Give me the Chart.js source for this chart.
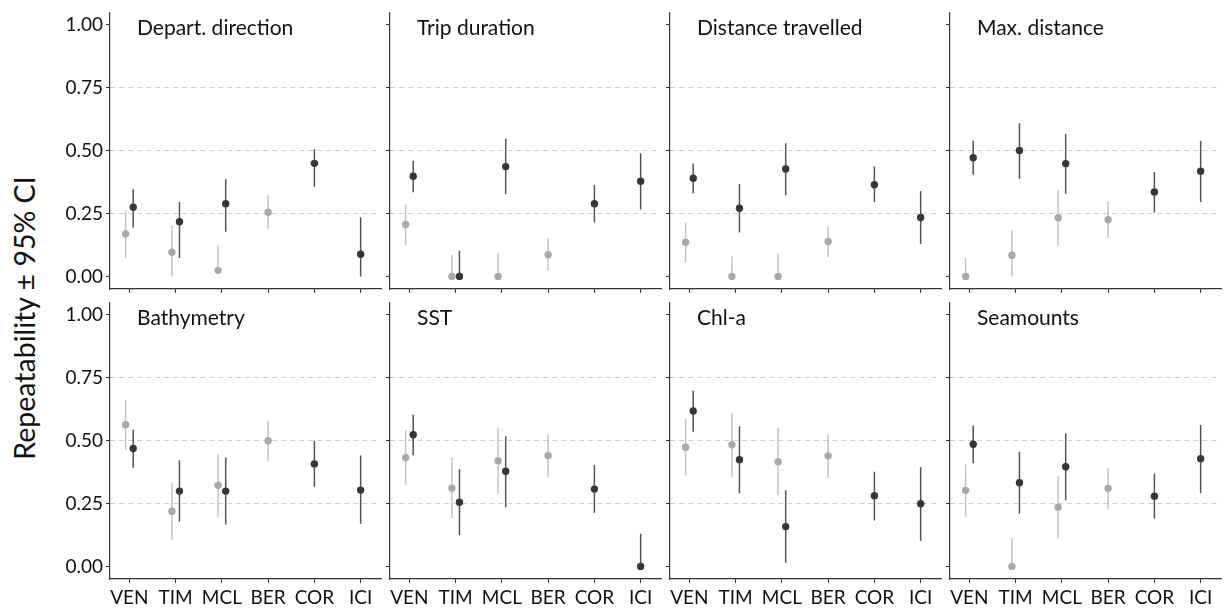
<!DOCTYPE html>
<html>
<head>
<meta charset="utf-8">
<script src="https://cdn.jsdelivr.net/npm/chart.js@4.4.1/dist/chart.umd.min.js"></script>
<style>
  html, body { margin: 0; padding: 0; background: #fff; }
  #wrap { position: relative; width: 1230px; height: 608px; overflow: hidden; font-family: Lato, 'Open Sans', sans-serif; }
  #wrap canvas { position: absolute; }
  #ytitle { position: absolute; left: 24px; top: 318px; transform: translate(-50%, -50%) rotate(-90deg);
            font-size: 28.5px; white-space: nowrap; color: #111; }
</style>
</head>
<body>
<div id="wrap">
  <div id="ytitle">Repeatability ± 95% CI</div>
</div>
<script>
const panelNames = ['Depart. direction', 'Trip duration', 'Distance travelled', 'Max. distance',
                    'Bathymetry', 'SST', 'Chl-a', 'Seamounts'];
const sites = ['VEN', 'TIM', 'MCL', 'BER', 'COR', 'ICI'];
const yTicks = [0, 0.25, 0.5, 0.75, 1];

// light grey group: estimate, lower and upper CI per site (null = not sampled)
const paleR = [
  [0.169, 0.096, 0.024, 0.255, null, null],
  [0.206, 0.000, 0.000, 0.086, null, null],
  [0.136, 0.000, 0.000, 0.138, null, null],
  [0.000, 0.084, 0.233, 0.225, null, null],
  [0.563, 0.219, 0.322, 0.499, null, null],
  [0.432, 0.311, 0.420, 0.440, null, null],
  [0.473, 0.483, 0.416, 0.439, null, null],
  [0.302, 0.000, 0.235, 0.310, null, null]
];
const paleLo = [
  [0.073, 0.000, 0.013, 0.189, null, null],
  [0.124, 0.000, 0.000, 0.023, null, null],
  [0.056, 0.000, 0.000, 0.076, null, null],
  [0.000, 0.000, 0.122, 0.153, null, null],
  [0.463, 0.106, 0.197, 0.419, null, null],
  [0.324, 0.191, 0.289, 0.355, null, null],
  [0.360, 0.355, 0.283, 0.351, null, null],
  [0.197, 0.000, 0.112, 0.227, null, null]
];
const paleHi = [
  [0.262, 0.202, 0.124, 0.322, null, null],
  [0.289, 0.086, 0.093, 0.153, null, null],
  [0.213, 0.080, 0.090, 0.198, null, null],
  [0.073, 0.184, 0.343, 0.297, null, null],
  [0.662, 0.332, 0.445, 0.578, null, null],
  [0.541, 0.432, 0.552, 0.524, null, null],
  [0.586, 0.609, 0.551, 0.525, null, null],
  [0.406, 0.113, 0.359, 0.390, null, null]
];

// dark grey group
const darkR = [
  [0.275, 0.217, 0.289, null, 0.449, 0.088],
  [0.398, 0.000, 0.436, null, 0.289, 0.378],
  [0.390, 0.271, 0.427, null, 0.364, 0.234],
  [0.471, 0.500, 0.448, null, 0.335, 0.418],
  [0.468, 0.299, 0.299, null, 0.407, 0.303],
  [0.523, 0.255, 0.378, null, 0.307, 0.000],
  [0.617, 0.424, 0.158, null, 0.281, 0.249],
  [0.485, 0.332, 0.396, null, 0.279, 0.428]
];
const darkLo = [
  [0.193, 0.073, 0.177, null, 0.356, 0.000],
  [0.334, 0.000, 0.326, null, 0.215, 0.266],
  [0.330, 0.174, 0.322, null, 0.295, 0.129],
  [0.404, 0.388, 0.328, null, 0.254, 0.295],
  [0.392, 0.177, 0.166, null, 0.316, 0.169],
  [0.441, 0.124, 0.235, null, 0.213, 0.000],
  [0.535, 0.291, 0.015, null, 0.182, 0.101],
  [0.410, 0.209, 0.263, null, 0.190, 0.291]
];
const darkHi = [
  [0.346, 0.295, 0.386, null, 0.505, 0.235],
  [0.459, 0.102, 0.548, null, 0.363, 0.489],
  [0.448, 0.367, 0.529, null, 0.436, 0.339],
  [0.539, 0.609, 0.566, null, 0.415, 0.539],
  [0.543, 0.422, 0.432, null, 0.499, 0.440],
  [0.602, 0.386, 0.517, null, 0.403, 0.130],
  [0.698, 0.557, 0.302, null, 0.376, 0.395],
  [0.560, 0.455, 0.529, null, 0.368, 0.562]
];

const FONT = "Lato, 'Open Sans', sans-serif";
const DODGE = 0.082;

// panel label in the top-left corner of each facet
const facetLabel = {
  id: 'facetLabel',
  afterDraw(chart, args, opts) {
    const { ctx, chartArea } = chart;
    ctx.save();
    ctx.font = '21px ' + FONT;
    ctx.fillStyle = '#111';
    ctx.textBaseline = 'middle';
    ctx.fillText(opts.text, chartArea.left + 27, chartArea.top + 16);
    ctx.restore();
  }
};

function xPos(p, k, side) {
  const both = paleR[p][k] !== null && darkR[p][k] !== null;
  return k + 1 + (both ? side * DODGE : 0);
}

function pointsOf(p, est, side) {
  const out = [];
  sites.forEach((s, k) => {
    if (est[p][k] !== null) out.push({ x: xPos(p, k, side), y: est[p][k] });
  });
  return out;
}

function barsOf(p, lo, hi, side) {
  const out = [];
  sites.forEach((s, k) => {
    if (lo[p][k] === null) return;
    const x = xPos(p, k, side);
    out.push({ x: x, y: lo[p][k] }, { x: x, y: hi[p][k] }, { x: x, y: null });
  });
  return out;
}

const wrap = document.getElementById('wrap');

panelNames.forEach((name, p) => {
  const col = p % 4, row = Math.floor(p / 4);
  const plotLeft = 110 + 280 * col;
  const plotTop = row ? 302 : 12;
  const plotW = 271, plotH = 275;
  const yAxisW = 60, xAxisH = row ? 34 : 8, padR = 4;

  const canvas = document.createElement('canvas');
  canvas.width = yAxisW + plotW + padR;
  canvas.height = plotH + xAxisH + 2;
  canvas.style.left = (plotLeft - yAxisW) + 'px';
  canvas.style.top = plotTop + 'px';
  wrap.appendChild(canvas);

  new Chart(canvas.getContext('2d'), {
    type: 'scatter',
    data: {
      datasets: [
        { type: 'line', data: barsOf(p, darkLo, darkHi, 1), borderColor: '#555555', borderWidth: 1.5,
          pointRadius: 0, spanGaps: false, clip: false, order: 2 },
        { type: 'line', data: barsOf(p, paleLo, paleHi, -1), borderColor: '#c4c4c4', borderWidth: 1.5,
          pointRadius: 0, spanGaps: false, clip: false, order: 3 },
        { data: pointsOf(p, darkR, 1), backgroundColor: '#363636', pointRadius: 3.7, borderWidth: 0,
          clip: false, order: 0 },
        { data: pointsOf(p, paleR, -1), backgroundColor: '#a9a9a9', pointRadius: 3.7, borderWidth: 0,
          clip: false, order: 1 }
      ]
    },
    options: {
      responsive: false,
      animation: false,
      events: [],
      layout: { padding: 0, autoPadding: false },
      plugins: {
        legend: { display: false },
        tooltip: { enabled: false },
        facetLabel: { text: name }
      },
      scales: {
        x: {
          type: 'linear', min: 0.58, max: 6.44,
          afterBuildTicks: s => { s.ticks = sites.map((_, k) => ({ value: k + 1 })); },
          afterFit: s => { s.height = xAxisH; s.paddingLeft = 0; s.paddingRight = padR; },
          grid: { drawOnChartArea: false, drawTicks: true, tickLength: 4, tickColor: '#333', tickWidth: 1 },
          border: { color: '#333', width: 1.2 },
          ticks: { display: row === 1, autoSkip: false, maxRotation: 0, padding: 3, color: '#111',
                   font: { family: FONT, size: 19 }, callback: v => sites[v - 1] }
        },
        y: {
          type: 'linear', min: -0.05, max: 1.05,
          afterBuildTicks: s => { s.ticks = yTicks.map(v => ({ value: v })); },
          afterFit: s => { s.width = yAxisW; s.paddingTop = 0; s.paddingBottom = 0; },
          grid: {
            color: c => (c.tick && c.tick.value > 0 && c.tick.value < 1) ? '#cfcfcf' : 'rgba(0,0,0,0)',
            lineWidth: 1, tickLength: 4, tickColor: '#333', tickWidth: 1
          },
          border: { color: '#333', width: 1.2, dash: [5, 4] },
          ticks: { display: col === 0, padding: 3, color: '#111',
                   font: { family: FONT, size: 19 }, callback: v => v.toFixed(2) }
        }
      }
    },
    plugins: [facetLabel]
  });
});
</script>
</body>
</html>
